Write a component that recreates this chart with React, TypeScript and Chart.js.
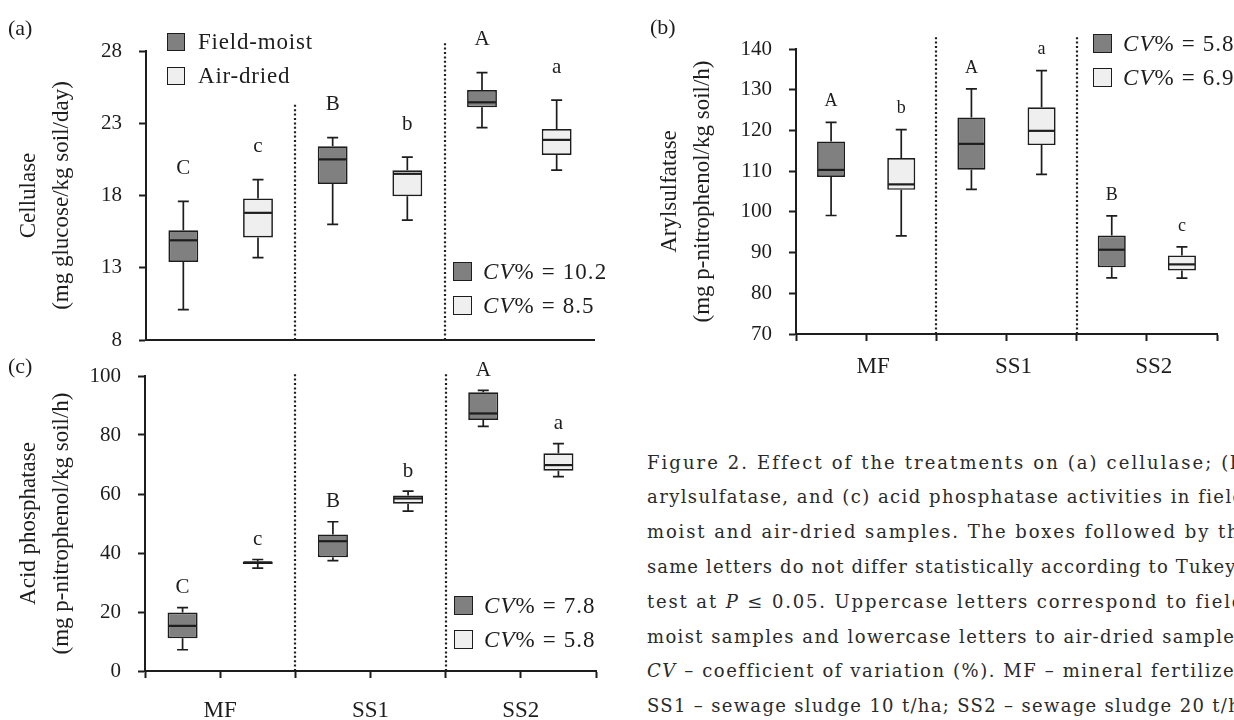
import React, { useEffect, useRef } from 'react';
import { Chart, registerables } from 'chart.js';

Chart.register(...registerables);

// ---------- data ----------
const categories = ['MF', 'SS1', 'SS2'];

// each row: [min, q1, median, q3, max]
const cellulaseFieldMoist = [
  [10.1, 13.4, 14.9, 15.6, 17.6],
  [16.0, 18.8, 20.5, 21.4, 22.0],
  [22.7, 24.1, 24.45, 25.3, 26.5],
];
const cellulaseAirDried = [
  [13.7, 15.1, 16.8, 17.8, 19.1],
  [16.3, 17.95, 19.5, 19.75, 20.65],
  [19.75, 20.8, 21.85, 22.6, 24.6],
];
const cellulaseLettersFM = ['C', 'B', 'A'];
const cellulaseLettersAD = ['c', 'b', 'a'];
const cellulaseCV = ['10.2', '8.5'];
const cellulaseTicks = [8, 13, 18, 23, 28];

const arylFieldMoist = [
  [99.1, 108.55, 110.3, 117.3, 122.0],
  [105.5, 110.35, 116.7, 123.2, 130.2],
  [83.8, 86.4, 90.7, 94.2, 99.0],
];
const arylAirDried = [
  [94.1, 105.4, 106.75, 113.2, 120.2],
  [109.2, 116.4, 119.9, 125.7, 134.7],
  [83.7, 85.6, 87.1, 89.3, 91.4],
];
const arylLettersFM = ['A', 'A', 'B'];
const arylLettersAD = ['b', 'a', 'c'];
const arylCV = ['5.8', '6.9'];
const arylTicks = [70, 80, 90, 100, 110, 120, 130, 140];

const acidFieldMoist = [
  [7.2, 11.1, 15.3, 19.8, 21.5],
  [37.4, 38.6, 44.0, 46.3, 50.6],
  [82.9, 85.1, 87.3, 94.5, 95.1],
];
const acidAirDried = [
  [34.9, 36.3, 36.8, 37.1, 37.8],
  [54.2, 56.7, 58.5, 59.5, 61.0],
  [65.9, 67.9, 69.8, 73.8, 77.1],
];
const acidLettersFM = ['C', 'B', 'A'];
const acidLettersAD = ['c', 'b', 'a'];
const acidCV = ['7.8', '5.8'];
const acidTicks = [0, 20, 40, 60, 80, 100];

const seriesNames = ['Field-moist', 'Air-dried'];

// caption lines; text between underscores is italic
const captionLines = [
  'Figure 2. Effect of the treatments on (a) cellulase; (b)',
  'arylsulfatase, and (c) acid phosphatase activities in field-',
  'moist and air-dried samples. The boxes followed by the',
  "same letters do not differ statistically according to Tukey's",
  'test at _P_ ≤ 0.05. Uppercase letters correspond to field-',
  'moist samples and lowercase letters to air-dried samples.',
  '_CV_ – coefficient of variation (%). MF – mineral fertilizer;',
  'SS1 – sewage sludge 10 t/ha; SS2 – sewage sludge 20 t/ha',
];

// ---------- styles ----------
const FONT = "'Liberation Serif', 'Times New Roman', serif";
const CAPTION_FONT = "'DejaVu Serif', serif";
const INK = '#1d1d1d';
const FILLS = ['#808080', '#efefef'];

// ---------- plugins ----------
const whiskerPlugin = {
  id: 'whiskers',
  beforeDatasetsDraw(chart: any, _a: any, opts: any) {
    const ctx = chart.ctx;
    const y = chart.scales.y;
    chart.data.datasets.forEach((ds: any, di: number) => {
      const meta = chart.getDatasetMeta(di);
      meta.data.forEach((el: any, i: number) => {
        const s = ds.stats[i];
        const x = el.x;
        const cap = opts.cap / 2;
        ctx.save();
        ctx.strokeStyle = INK;
        ctx.lineWidth = 1.7;
        ctx.beginPath();
        ctx.moveTo(x, y.getPixelForValue(s[3]));
        ctx.lineTo(x, y.getPixelForValue(s[4]));
        ctx.moveTo(x - cap, y.getPixelForValue(s[4]));
        ctx.lineTo(x + cap, y.getPixelForValue(s[4]));
        ctx.moveTo(x, y.getPixelForValue(s[1]));
        ctx.lineTo(x, y.getPixelForValue(s[0]));
        ctx.moveTo(x - cap, y.getPixelForValue(s[0]));
        ctx.lineTo(x + cap, y.getPixelForValue(s[0]));
        ctx.stroke();
        ctx.restore();
      });
    });
  },
  afterDatasetsDraw(chart: any, _a: any, opts: any) {
    const ctx = chart.ctx;
    const y = chart.scales.y;
    chart.data.datasets.forEach((ds: any, di: number) => {
      const meta = chart.getDatasetMeta(di);
      meta.data.forEach((el: any, i: number) => {
        const s = ds.stats[i];
        const x = el.x;
        const w = el.width;
        ctx.save();
        ctx.strokeStyle = INK;
        ctx.lineWidth = 2.2;
        ctx.beginPath();
        const ym = y.getPixelForValue(s[2]);
        ctx.moveTo(x - w / 2 + 1, ym);
        ctx.lineTo(x + w / 2 - 1, ym);
        ctx.stroke();
        ctx.fillStyle = INK;
        ctx.font = `${opts.letterSize}px ${FONT}`;
        ctx.textAlign = 'center';
        ctx.textBaseline = 'middle';
        ctx.fillText(ds.letters[i], x, y.getPixelForValue(s[4]) - opts.letterOffset);
        ctx.restore();
      });
    });
  },
};

const dividerPlugin = {
  id: 'dividers',
  beforeDatasetsDraw(chart: any, _a: any, opts: any) {
    const ctx = chart.ctx;
    const x = chart.scales.x;
    const y = chart.scales.y;
    opts.at.forEach((v: number, k: number) => {
      const px = Math.round(x.getPixelForValue(v));
      ctx.save();
      ctx.strokeStyle = '#1f1f1f';
      ctx.lineWidth = 2.2;
      ctx.setLineDash([2, 2.4]);
      ctx.beginPath();
      ctx.moveTo(px, chart.chartArea.bottom);
      ctx.lineTo(px, y.getPixelForValue(opts.tops[k]));
      ctx.stroke();
      ctx.restore();
    });
  },
};

// ---------- panel ----------
type PanelProps = {
  left: number;
  top: number;
  width: number;
  height: number;
  fm: number[][];
  ad: number[][];
  lettersFM: string[];
  lettersAD: string[];
  yTicks: number[];
  title: string[];
  titlePad: number;
  yWidth: number;
  padTop: number;
  padRight: number;
  xHeight: number;
  showX: boolean;
  xLabelPad: number;
  xLabelShift: number;
  letterSize: number;
  letterOffset: number;
  dividerTops: number[];
};

function BoxPanel(p: PanelProps) {
  const ref = useRef<HTMLCanvasElement>(null);
  useEffect(() => {
    const series = [p.fm, p.ad];
    const letters = [p.lettersFM, p.lettersAD];
    const chart = new Chart(ref.current as HTMLCanvasElement, {
      type: 'bar',
      data: {
        datasets: series.map((rows, si) => ({
          label: seriesNames[si],
          data: rows.map((r, i) => ({ x: i + (si - 0.5) * 0.5, y: [r[1], r[3]] })),
          stats: rows,
          letters: letters[si],
          backgroundColor: FILLS[si],
          borderColor: INK,
          borderWidth: 1.7,
          borderSkipped: false,
          grouped: false,
          categoryPercentage: 1,
          barPercentage: 0.4,
        })) as any,
      },
      options: {
        responsive: false,
        animation: false,
        devicePixelRatio: 1,
        layout: { padding: { top: p.padTop, right: p.padRight, left: 0, bottom: 0 } },
        plugins: {
          legend: { display: false },
          tooltip: { enabled: false },
          whiskers: { cap: 11, letterSize: p.letterSize, letterOffset: p.letterOffset },
          dividers: { at: [0.5, 1.5], tops: p.dividerTops },
        } as any,
        scales: {
          x: {
            type: 'linear',
            min: -0.5,
            max: 2.5,
            offset: false,
            grid: {
              offset: false,
              display: true,
              drawOnChartArea: false,
              drawTicks: p.showX,
              tickLength: 7,
              tickWidth: 2,
              tickColor: INK,
            },
            border: { display: true, width: 2, color: INK },
            ticks: {
              display: p.showX,
              stepSize: 0.5,
              autoSkip: false,
              maxRotation: 0,
              padding: p.xLabelPad,
              labelOffset: p.xLabelShift,
              color: INK,
              font: { family: FONT, size: 23 },
              callback: (v: any) => {
                const n = Number(v);
                return Math.abs(n - Math.round(n)) < 1e-6 ? categories[Math.round(n)] : '';
              },
            },
            afterFit: (s: any) => {
              s.height = p.xHeight;
              s.paddingLeft = 0;
              s.paddingRight = 0;
            },
          },
          y: {
            min: p.yTicks[0],
            max: p.yTicks[p.yTicks.length - 1],
            afterBuildTicks: (s: any) => {
              s.ticks = p.yTicks.map((v) => ({ value: v }));
            },
            grid: {
              display: true,
              drawOnChartArea: false,
              drawTicks: true,
              tickLength: 7,
              tickWidth: 2,
              tickColor: INK,
            },
            border: { display: true, width: 2, color: INK },
            ticks: { padding: 17, color: INK, font: { family: FONT, size: 21 } },
            title: {
              display: true,
              text: p.title,
              color: INK,
              font: { family: FONT, size: 23, lineHeight: 1.42 },
              padding: { top: p.titlePad, bottom: 0 },
            },
            afterFit: (s: any) => {
              s.width = p.yWidth;
              s.paddingTop = 0;
              s.paddingBottom = 0;
            },
          },
        } as any,
      },
      plugins: [whiskerPlugin, dividerPlugin],
    });
    return () => chart.destroy();
  }, []);
  return (
    <canvas
      ref={ref}
      width={p.width}
      height={p.height}
      style={{ position: 'absolute', left: p.left, top: p.top, width: p.width, height: p.height }}
    />
  );
}

// ---------- html bits ----------
const textStyle: React.CSSProperties = {
  position: 'absolute',
  fontFamily: FONT,
  color: INK,
  whiteSpace: 'nowrap',
};

function Swatch({ left, top, fill, size }: { left: number; top: number; fill: string; size: number }) {
  return (
    <div
      style={{
        position: 'absolute',
        left,
        top,
        width: size,
        height: size,
        boxSizing: 'border-box',
        border: `1.7px solid ${INK}`,
        background: fill,
      }}
    />
  );
}

function NameLegend({ left, top }: { left: number; top: number }) {
  return (
    <>
      {seriesNames.map((n, i) => (
        <React.Fragment key={n}>
          <Swatch left={left} top={top + i * 34} fill={FILLS[i]} size={18} />
          <div
            style={{
              ...textStyle,
              left: left + 31,
              top: top + i * 34 - 3,
              fontSize: 23,
              lineHeight: '24px',
              letterSpacing: '0.8px',
            }}
          >
            {n}
          </div>
        </React.Fragment>
      ))}
    </>
  );
}

function CVLegend({ left, top, values }: { left: number; top: number; values: string[] }) {
  return (
    <>
      {values.map((v, i) => (
        <React.Fragment key={i}>
          <Swatch left={left} top={top + i * 33.5} fill={FILLS[i]} size={19} />
          <div
            style={{
              ...textStyle,
              left: left + 30,
              top: top + i * 33.5 - 2,
              fontSize: 23,
              lineHeight: '23px',
              letterSpacing: '1.1px',
            }}
          >
            <i>CV</i>% = {v}
          </div>
        </React.Fragment>
      ))}
    </>
  );
}

let measureCtx: CanvasRenderingContext2D | null = null;
function fitSpacing(plain: string, fontSize: number, target: number) {
  if (!measureCtx) measureCtx = document.createElement('canvas').getContext('2d');
  if (!measureCtx) return 0;
  measureCtx.font = `${fontSize}px ${CAPTION_FONT}`;
  const w = measureCtx.measureText(plain).width;
  return Math.max(0, (target - w) / plain.length);
}

function Caption({ left, top, lineGap, fontSize, lineWidth }: { left: number; top: number; lineGap: number; fontSize: number; lineWidth: number }) {
  return (
    <div
      style={{
        position: 'absolute',
        left,
        top,
        width: 1234 - left,
        height: 720 - top,
        overflow: 'hidden',
      }}
    >
      {captionLines.map((line, i) => {
        const parts = line.split('_');
        const plain = parts.join('');
        const ls = fitSpacing(plain, fontSize, lineWidth - 2);
        return (
          <div
            key={i}
            style={{
              width: lineWidth,
              height: lineGap,
              lineHeight: `${lineGap}px`,
              fontFamily: CAPTION_FONT,
              fontSize,
              letterSpacing: `${ls}px`,
              color: '#2a2a2a',
              whiteSpace: 'nowrap',
              textAlign: 'justify',
              textAlignLast: 'justify',
            }}
          >
            {parts.map((t, k) => (k % 2 === 1 ? <i key={k}>{t}</i> : <span key={k}>{t}</span>))}
          </div>
        );
      })}
    </div>
  );
}

export default function App() {
  return (
    <div
      style={{
        position: 'fixed',
        left: 0,
        top: 0,
        width: 1234,
        height: 720,
        overflow: 'hidden',
        background: '#fff',
      }}
    >
      <BoxPanel
        left={0}
        top={0}
        width={620}
        height={380}
        fm={cellulaseFieldMoist}
        ad={cellulaseAirDried}
        lettersFM={cellulaseLettersFM}
        lettersAD={cellulaseLettersAD}
        yTicks={cellulaseTicks}
        title={['Cellulase', '(mg glucose/kg soil/day)']}
        titlePad={13}
        yWidth={146}
        padTop={51}
        padRight={26}
        xHeight={40}
        showX={false}
        xLabelPad={0}
        xLabelShift={0}
        letterSize={21}
        letterOffset={33}
        dividerTops={[24.3, 28.65]}
      />
      <BoxPanel
        left={600}
        top={0}
        width={634}
        height={400}
        fm={arylFieldMoist}
        ad={arylAirDried}
        lettersFM={arylLettersFM}
        lettersAD={arylLettersAD}
        yTicks={arylTicks}
        title={['Arylsulfatase', '(mg p-nitrophenol/kg soil/h)']}
        titlePad={54}
        yWidth={196}
        padTop={49}
        padRight={17}
        xHeight={66}
        showX={true}
        xLabelPad={12}
        xLabelShift={7}
        letterSize={18}
        letterOffset={21}
        dividerTops={[143.4, 143.4]}
      />
      <BoxPanel
        left={0}
        top={345}
        width={620}
        height={375}
        fm={acidFieldMoist}
        ad={acidAirDried}
        lettersFM={acidLettersFM}
        lettersAD={acidLettersAD}
        yTicks={acidTicks}
        title={['Acid phosphatase', '(mg p-nitrophenol/kg soil/h)']}
        titlePad={13}
        yWidth={145}
        padTop={31}
        padRight={24}
        xHeight={49}
        showX={true}
        xLabelPad={19}
        xLabelShift={0}
        letterSize={21}
        letterOffset={20}
        dividerTops={[101.1, 101.1]}
      />

      <div style={{ ...textStyle, left: 8, top: 17, fontSize: 22, lineHeight: '22px' }}>(a)</div>
      <div style={{ ...textStyle, left: 650, top: 16, fontSize: 22, lineHeight: '22px' }}>(b)</div>
      <div style={{ ...textStyle, left: 8, top: 355, fontSize: 22, lineHeight: '22px' }}>(c)</div>

      <NameLegend left={167} top={33} />
      <CVLegend left={453} top={262} values={cellulaseCV} />
      <CVLegend left={1093} top={34} values={arylCV} />
      <CVLegend left={454} top={596} values={acidCV} />

      <Caption left={647} top={445.6} lineGap={34.8} fontSize={18} lineWidth={606} />
    </div>
  );
}
